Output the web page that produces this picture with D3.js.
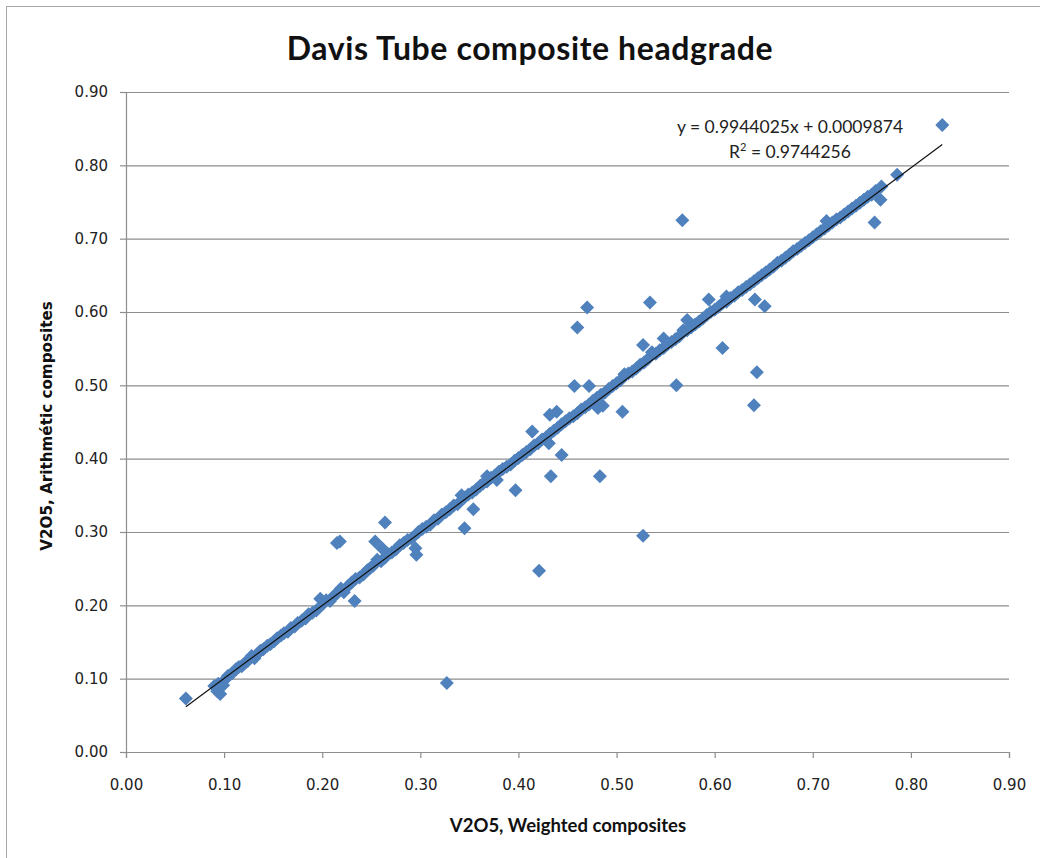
<!DOCTYPE html>
<html>
<head>
<meta charset="utf-8">
<script src="https://cdn.jsdelivr.net/npm/d3@7"></script>
<style>
  html, body { margin: 0; padding: 0; background: #fff; }
  svg { display: block; }
</style>
</head>
<body>
<svg id="chart" width="1040" height="858"></svg>
<script>
// Axis tick values
const xTicks = [0, 0.1, 0.2, 0.3, 0.4, 0.5, 0.6, 0.7, 0.8, 0.9];
const yTicks = [0, 0.1, 0.2, 0.3, 0.4, 0.5, 0.6, 0.7, 0.8, 0.9];

// V2O5 weighted composites (x) vs arithmetic composites (y)
const weighted = [
  0.061, 0.090, 0.094, 0.096, 0.093, 0.099, 0.101, 0.104, 0.108, 0.112,
  0.115, 0.118, 0.121, 0.124, 0.128, 0.131, 0.134, 0.137, 0.140, 0.144,
  0.147, 0.151, 0.154, 0.158, 0.161, 0.165, 0.168, 0.172, 0.175, 0.179,
  0.183, 0.186, 0.190, 0.194, 0.198, 0.201, 0.204, 0.208, 0.212, 0.215,
  0.215, 0.218, 0.219, 0.222, 0.226, 0.233, 0.230, 0.234, 0.238, 0.242,
  0.246, 0.249, 0.252, 0.254, 0.256, 0.261, 0.260, 0.264, 0.264, 0.267,
  0.271, 0.275, 0.279, 0.283, 0.287, 0.291, 0.295, 0.296, 0.298, 0.302,
  0.306, 0.310, 0.314, 0.318, 0.322, 0.327, 0.326, 0.330, 0.334, 0.338,
  0.342, 0.345, 0.345, 0.349, 0.353, 0.354, 0.357, 0.361, 0.364, 0.368,
  0.368, 0.372, 0.376, 0.378, 0.380, 0.384, 0.388, 0.392, 0.396, 0.397,
  0.400, 0.404, 0.408, 0.412, 0.414, 0.416, 0.420, 0.421, 0.424, 0.428,
  0.431, 0.432, 0.433, 0.439, 0.432, 0.436, 0.440, 0.444, 0.444, 0.448,
  0.452, 0.457, 0.456, 0.460, 0.460, 0.464, 0.468, 0.470, 0.472, 0.472,
  0.476, 0.481, 0.480, 0.483, 0.486, 0.484, 0.488, 0.492, 0.496, 0.500,
  0.504, 0.506, 0.508, 0.512, 0.516, 0.520, 0.524, 0.527, 0.527, 0.528,
  0.532, 0.534, 0.536, 0.540, 0.544, 0.548, 0.548, 0.552, 0.556, 0.560,
  0.561, 0.564, 0.567, 0.568, 0.572, 0.572, 0.576, 0.580, 0.584, 0.588,
  0.592, 0.594, 0.596, 0.600, 0.604, 0.608, 0.608, 0.612, 0.612, 0.616,
  0.620, 0.624, 0.628, 0.632, 0.636, 0.640, 0.641, 0.643, 0.640, 0.644,
  0.648, 0.651, 0.652, 0.656, 0.660, 0.664, 0.668, 0.672, 0.676, 0.680,
  0.684, 0.688, 0.692, 0.696, 0.700, 0.704, 0.708, 0.712, 0.714, 0.716,
  0.720, 0.724, 0.728, 0.732, 0.736, 0.740, 0.744, 0.748, 0.752, 0.756,
  0.760, 0.763, 0.764, 0.769, 0.770, 0.786, 0.832
];
const arithmetic = [
  0.073, 0.090, 0.093, 0.079, 0.083, 0.091, 0.099, 0.104, 0.107, 0.113,
  0.116, 0.117, 0.121, 0.124, 0.131, 0.128, 0.134, 0.138, 0.140, 0.145,
  0.147, 0.151, 0.155, 0.159, 0.162, 0.164, 0.169, 0.171, 0.176, 0.179,
  0.182, 0.188, 0.190, 0.193, 0.209, 0.202, 0.207, 0.206, 0.213, 0.216,
  0.285, 0.287, 0.223, 0.218, 0.226, 0.206, 0.231, 0.236, 0.238, 0.242,
  0.248, 0.251, 0.254, 0.287, 0.262, 0.278, 0.260, 0.313, 0.265, 0.270,
  0.272, 0.276, 0.282, 0.285, 0.289, 0.291, 0.278, 0.269, 0.300, 0.304,
  0.307, 0.310, 0.316, 0.318, 0.324, 0.094, 0.327, 0.331, 0.336, 0.338,
  0.350, 0.305, 0.347, 0.351, 0.354, 0.331, 0.358, 0.363, 0.366, 0.376,
  0.369, 0.374, 0.377, 0.371, 0.382, 0.386, 0.389, 0.392, 0.397, 0.357,
  0.401, 0.405, 0.409, 0.413, 0.437, 0.418, 0.421, 0.247, 0.426, 0.429,
  0.421, 0.460, 0.376, 0.464, 0.434, 0.438, 0.442, 0.405, 0.447, 0.451,
  0.455, 0.499, 0.458, 0.579, 0.462, 0.467, 0.470, 0.606, 0.499, 0.474,
  0.479, 0.469, 0.483, 0.376, 0.472, 0.487, 0.490, 0.495, 0.499, 0.503,
  0.507, 0.464, 0.515, 0.516, 0.519, 0.523, 0.528, 0.555, 0.295, 0.531,
  0.536, 0.613, 0.545, 0.543, 0.548, 0.564, 0.551, 0.556, 0.559, 0.563,
  0.500, 0.567, 0.725, 0.575, 0.589, 0.575, 0.579, 0.583, 0.587, 0.591,
  0.596, 0.617, 0.600, 0.603, 0.607, 0.551, 0.612, 0.621, 0.614, 0.619,
  0.622, 0.627, 0.630, 0.634, 0.638, 0.473, 0.617, 0.518, 0.642, 0.646,
  0.650, 0.608, 0.654, 0.658, 0.662, 0.667, 0.670, 0.674, 0.678, 0.683,
  0.686, 0.690, 0.694, 0.698, 0.702, 0.706, 0.710, 0.714, 0.724, 0.718,
  0.722, 0.726, 0.729, 0.733, 0.737, 0.741, 0.745, 0.749, 0.753, 0.757,
  0.760, 0.722, 0.765, 0.753, 0.771, 0.787, 0.855
];

// Linear trendline coefficients
const slope = 0.9944025;
const intercept = 0.0009874;
const r2 = 0.9744256;
const trendRange = [0.061, 0.832];

const titleText = "Davis Tube composite headgrade";
const xTitle = "V2O5, Weighted composites";
const yTitle = "V2O5, Arithmétic composites";

const svg = d3.select("#chart");
const W = 1040, H = 858;

svg.append("rect").attr("width", W).attr("height", H).attr("fill", "#fff");
// chart frame
svg.append("rect")
  .attr("x", 6.5).attr("y", 6.5).attr("width", W + 10).attr("height", H + 10)
  .attr("fill", "none").attr("stroke", "#a6a6a6").attr("stroke-width", 1);

const x = d3.scaleLinear().domain([0, 0.9]).range([126, 1009]);
const y = d3.scaleLinear().domain([0, 0.9]).range([752, 92]);
const fmt = d3.format(".2f");
const gridColor = "#8e8e8e";
const tickFont = "DejaVu Sans, Verdana, sans-serif";

// horizontal gridlines
const grid = svg.append("g")
  .attr("transform", `translate(${x(0)},0)`)
  .call(d3.axisLeft(y).tickValues(yTicks.filter(d => d > 0)).tickSize(-(x(0.9) - x(0))).tickFormat(""));
grid.select(".domain").remove();
grid.selectAll("line").attr("stroke", gridColor).attr("stroke-width", 1.2);

// y axis
const yAxis = svg.append("g")
  .attr("transform", `translate(${x(0)},0)`)
  .call(d3.axisLeft(y).tickValues(yTicks).tickSize(6).tickPadding(12).tickFormat(fmt));
yAxis.select(".domain").attr("stroke", gridColor).attr("stroke-width", 1.2);
yAxis.selectAll("line").attr("stroke", gridColor).attr("stroke-width", 1.2);
yAxis.selectAll("text")
  .attr("font-family", tickFont)
  .attr("font-size", 15).attr("fill", "#222");

// x axis
const xAxis = svg.append("g")
  .attr("transform", `translate(0,${y(0)})`)
  .call(d3.axisBottom(x).tickValues(xTicks).tickSize(6).tickPadding(21).tickFormat(fmt));
xAxis.select(".domain").attr("stroke", gridColor).attr("stroke-width", 1.2);
xAxis.selectAll("line").attr("stroke", gridColor).attr("stroke-width", 1.2);
xAxis.selectAll("text")
  .attr("font-family", tickFont)
  .attr("font-size", 15).attr("fill", "#222");

// data points
const points = weighted.map((d, i) => ({ x: d, y: arithmetic[i] }));
const diamond = "M0,-7L7,0L0,7L-7,0Z";
svg.append("g").selectAll("path")
  .data(points)
  .join("path")
  .attr("d", diamond)
  .attr("transform", d => `translate(${x(d.x)},${y(d.y)})`)
  .attr("fill", "#4f81bd");

// trendline
svg.append("line")
  .attr("x1", x(trendRange[0])).attr("y1", y(slope * trendRange[0] + intercept))
  .attr("x2", x(trendRange[1])).attr("y2", y(slope * trendRange[1] + intercept))
  .attr("stroke", "#111").attr("stroke-width", 1.2);

// trendline equation
const eq = svg.append("g").attr("font-family", "Lato, Carlito, sans-serif").attr("font-size", 17.5).attr("fill", "#222").attr("text-anchor", "middle");
eq.append("text").attr("x", 790).attr("y", 133).text(`y = ${slope}x + ${intercept}`);
const r2t = eq.append("text").attr("x", 790).attr("y", 158);
r2t.append("tspan").text("R");
r2t.append("tspan").attr("dy", -7).attr("font-size", 11).text("2");
r2t.append("tspan").attr("dy", 7).text(` = ${r2}`);

// titles
svg.append("text")
  .attr("x", 530).attr("y", 60)
  .attr("text-anchor", "middle")
  .attr("font-family", "Lato, Carlito, sans-serif").attr("font-weight", "bold")
  .attr("font-size", 32).attr("letter-spacing", 0.6).attr("fill", "#111")
  .text(titleText);

svg.append("text")
  .attr("x", 568).attr("y", 832)
  .attr("text-anchor", "middle")
  .attr("font-family", "Lato, Carlito, sans-serif").attr("font-weight", "bold")
  .attr("font-size", 18.5).attr("fill", "#111")
  .text(xTitle);

svg.append("text")
  .attr("transform", "translate(52,426) rotate(-90)")
  .attr("text-anchor", "middle")
  .attr("font-family", tickFont).attr("font-weight", "bold")
  .attr("font-size", 15.2).attr("fill", "#111")
  .text(yTitle);
</script>
</body>
</html>
